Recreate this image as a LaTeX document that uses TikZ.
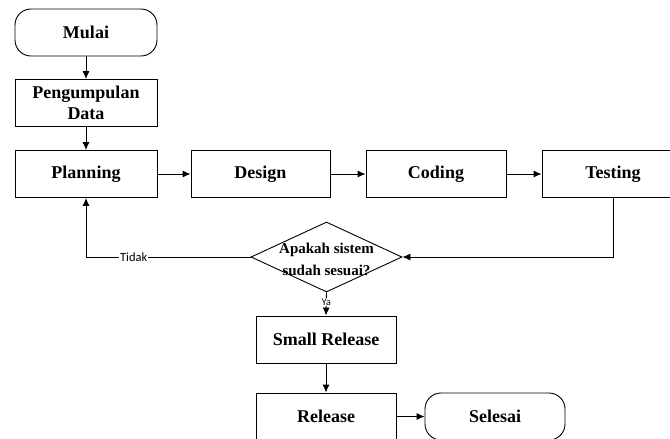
\documentclass[tikz,border=0pt]{standalone}
\usepackage{fontspec}
\setmainfont{Liberation Serif}
\newfontfamily\labelfont{Carlito}
\usetikzlibrary{shapes.geometric,arrows.meta}
\begin{document}
\begin{tikzpicture}[x=1pt,y=-1pt,
  line width=0.9pt,
  >={Latex[length=8pt,width=7pt]},
  stepbox/.style={draw,rectangle,minimum height=47pt,inner sep=0pt,
    font=\fontsize{18}{21.6}\selectfont\bfseries,align=center},
  termbox/.style={stepbox,rounded corners=16pt},
  decbox/.style={draw,diamond,minimum width=151pt,minimum height=70pt,inner sep=0pt},
  dectext/.style={font=\fontsize{15}{22}\selectfont\bfseries,align=center,inner sep=0pt},
  flowlabel/.style={font=\labelfont\fontsize{12.5}{13}\selectfont,fill=white,inner sep=1pt}]
\useasboundingbox (0,0) rectangle (670,439);
\clip (0,0) rectangle (670,439);

% top column
\node[termbox,minimum width=142pt] (mulai) at (86,32.5) {Mulai};
\node[stepbox,minimum width=142pt] (data) at (86,103) {Pengumpulan\\Data};

% main row of phases
\node[stepbox,minimum width=142pt] (planning) at (86,174) {Planning};
\node[stepbox,minimum width=139pt] (design) at (260.5,174) {Design};
\node[stepbox,minimum width=140pt] (coding) at (436,174) {Coding};
\node[stepbox,minimum width=142pt] (testing) at (613,174) {Testing};

% decision
\node[decbox] (dec) at (326.5,257) {};
\node[dectext] (dectxt) at (326.5,259) {Apakah sistem\\sudah sesuai?};

% release column
\node[stepbox,minimum width=140pt] (small) at (326,339.5) {Small Release};
\node[stepbox,minimum width=140pt] (release) at (326,416.5) {Release};
\node[termbox,minimum width=140pt] (selesai) at (495,416.5) {Selesai};

% connectors
\draw[->] (mulai) -- (data);
\draw[->] (data) -- (planning);
\draw[->] (planning) -- (design);
\draw[->] (design) -- (coding);
\draw[->] (coding) -- (testing);
\draw[->] (testing.south) |- (dec.east);
\draw[->] (dec.west) -| node[flowlabel,pos=0.355] {Tidak} (planning.south);
\draw[->] (dec.south) -- node[flowlabel,pos=0.42,font=\labelfont\fontsize{10}{11}\selectfont] {Ya} (small.north);
\draw[->] (small) -- (release);
\draw[->] (release) -- (selesai);
\end{tikzpicture}
\end{document}
